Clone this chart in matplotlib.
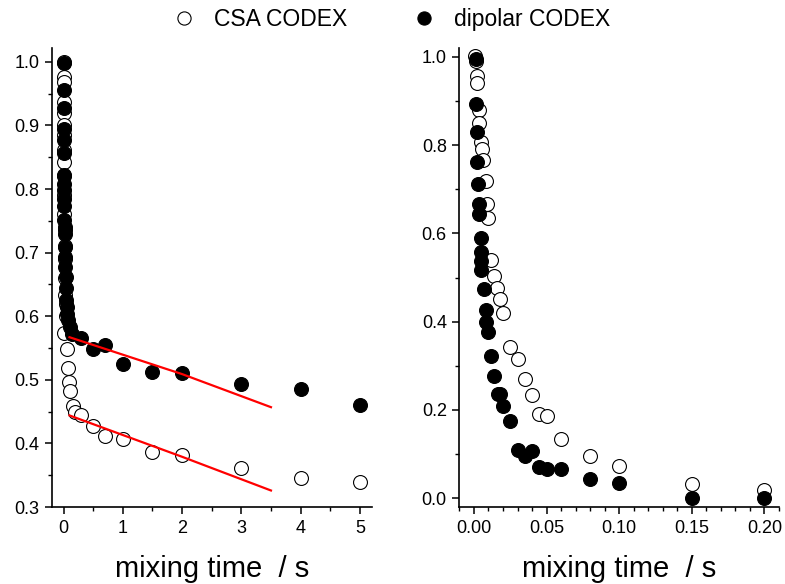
import numpy as np
import matplotlib
matplotlib.use("Agg")
import matplotlib.pyplot as plt
from matplotlib.ticker import MultipleLocator, FormatStrFormatter
from matplotlib.lines import Line2D

plt.rcParams["font.family"] = ["Liberation Sans", "DejaVu Sans"]

# left panel: raw decay, full time range (s)
csa_t_long = [0.001, 0.002, 0.002, 0.003, 0.004, 0.005, 0.006, 0.008, 0.009, 0.01,
              0.012, 0.014, 0.016, 0.018, 0.02, 0.025, 0.03, 0.035, 0.04, 0.01,
              0.06, 0.08, 0.09, 0.11, 0.16, 0.2, 0.3, 0.5, 0.7, 1.0, 1.5, 2.0, 3.0, 4.0, 5.0]
csa_long = [0.999, 0.976, 0.968, 0.937, 0.919, 0.90, 0.885, 0.862, 0.842, 0.82,
            0.79, 0.76, 0.735, 0.71, 0.69, 0.66, 0.634, 0.62, 0.60, 0.574,
            0.549, 0.518, 0.497, 0.482, 0.459, 0.449, 0.445, 0.428, 0.411, 0.407,
            0.386, 0.382, 0.361, 0.346, 0.340]

dip_t_long = [0.001, 0.002, 0.003, 0.004, 0.005, 0.006, 0.007, 0.008, 0.009, 0.01,
              0.012, 0.014, 0.016, 0.018, 0.02, 0.025, 0.03, 0.035, 0.04, 0.045,
              0.05, 0.06, 0.08, 0.1, 0.15, 0.3, 0.5, 0.7, 1.0, 1.5, 2.0, 3.0, 4.0, 5.0]
dip_long = [0.998, 0.956, 0.928, 0.895, 0.877, 0.856, 0.822, 0.808, 0.798, 0.785,
            0.774, 0.751, 0.740, 0.730, 0.709, 0.693, 0.677, 0.662, 0.645, 0.625,
            0.614, 0.604, 0.594, 0.583, 0.572, 0.565, 0.549, 0.555, 0.525, 0.513,
            0.511, 0.494, 0.485, 0.460]

# fitted slow components
fit_t = [0.1, 2.0, 3.5]
dip_fit = [0.567, 0.509, 0.457]
csa_fit = [0.444, 0.379, 0.326]

# right panel: normalized fast decay
csa_t = [0.001, 0.0012, 0.002, 0.002, 0.0035, 0.0037, 0.0048, 0.0053, 0.0064, 0.008,
         0.009, 0.0098, 0.012, 0.014, 0.016, 0.018, 0.020, 0.025, 0.030, 0.035,
         0.040, 0.045, 0.050, 0.060, 0.080, 0.100, 0.150, 0.200]
csa = [1.002, 0.99, 0.956, 0.941, 0.879, 0.851, 0.806, 0.791, 0.766, 0.719,
       0.666, 0.634, 0.540, 0.503, 0.476, 0.451, 0.419, 0.342, 0.315, 0.269,
       0.234, 0.190, 0.186, 0.134, 0.096, 0.072, 0.032, 0.019]

dip_t = [0.0012, 0.0014, 0.0019, 0.0023, 0.0028, 0.0034, 0.0036, 0.0046, 0.0048, 0.005,
         0.005, 0.0069, 0.008, 0.0083, 0.0098, 0.0117, 0.014, 0.0163, 0.018, 0.020,
         0.025, 0.030, 0.035, 0.040, 0.045, 0.050, 0.060, 0.080, 0.100, 0.150, 0.200]
dip = [0.994, 0.894, 0.829, 0.761, 0.712, 0.666, 0.645, 0.589, 0.558, 0.537,
       0.517, 0.473, 0.426, 0.399, 0.377, 0.322, 0.278, 0.235, 0.236, 0.209,
       0.176, 0.109, 0.096, 0.107, 0.070, 0.066, 0.066, 0.044, 0.034, 0.0, 0.0]

fig = plt.figure(figsize=(7.85, 5.84), dpi=100)
ax1 = fig.add_axes([0.0659, 0.1318, 0.4076, 0.7852])
ax2 = fig.add_axes([0.5851, 0.1318, 0.4073, 0.7860])

mk = dict(linestyle="none", marker="o", markersize=10, markeredgewidth=0.8,
          markeredgecolor="black")

ax1.plot(csa_t_long, csa_long, markerfacecolor="white", **mk)
ax1.plot(dip_t_long, dip_long, markerfacecolor="black", **mk)
ax1.plot(fit_t, dip_fit, color="red", lw=1.6)
ax1.plot(fit_t, csa_fit, color="red", lw=1.6)
ax1.set_xlim(-0.2, 5.2)
ax1.set_ylim(0.3, 1.021)
ax1.xaxis.set_major_locator(MultipleLocator(1))
ax1.xaxis.set_minor_locator(MultipleLocator(0.5))
ax1.yaxis.set_major_locator(MultipleLocator(0.1))
ax1.yaxis.set_minor_locator(MultipleLocator(0.05))
ax1.yaxis.set_major_formatter(FormatStrFormatter("%.1f"))

ax2.plot(csa_t, csa, markerfacecolor="white", **mk)
ax2.plot(dip_t, dip, markerfacecolor="black", **mk)
ax2.set_xlim(-0.0101, 0.2101)
ax2.set_ylim(-0.02, 1.02)
ax2.xaxis.set_major_locator(MultipleLocator(0.05))
ax2.xaxis.set_minor_locator(MultipleLocator(0.01))
ax2.yaxis.set_major_locator(MultipleLocator(0.2))
ax2.yaxis.set_minor_locator(MultipleLocator(0.1))
ax2.xaxis.set_major_formatter(FormatStrFormatter("%.2f"))
ax2.yaxis.set_major_formatter(FormatStrFormatter("%.1f"))

for ax in (ax1, ax2):
    for s in ("top", "right"):
        ax.spines[s].set_visible(False)
    for s in ("left", "bottom"):
        ax.spines[s].set_linewidth(1.2)
    ax.tick_params(which="major", direction="out", length=5, width=1.1,
                   labelsize=13, pad=4)
    ax.tick_params(which="minor", direction="out", length=3, width=1.0)
    ax.set_xlabel("mixing time  / s", fontsize=21, labelpad=13)
    for sp in ax.spines.values():
        sp.set_zorder(0)
    for ln in ax.lines:
        ln.set_clip_on(False)

handles = [Line2D([], [], markerfacecolor="white", **mk),
           Line2D([], [], markerfacecolor="black", **mk)]
fig.legend(handles, ["CSA CODEX", "dipolar CODEX"], loc="center",
           bbox_to_anchor=(0.497, 0.966), ncol=2, frameon=False,
           fontsize=16.5, handletextpad=0.7, columnspacing=2.76,
           markerscale=0.95, handlelength=1.2)

fig.savefig("out.png", dpi=100)
